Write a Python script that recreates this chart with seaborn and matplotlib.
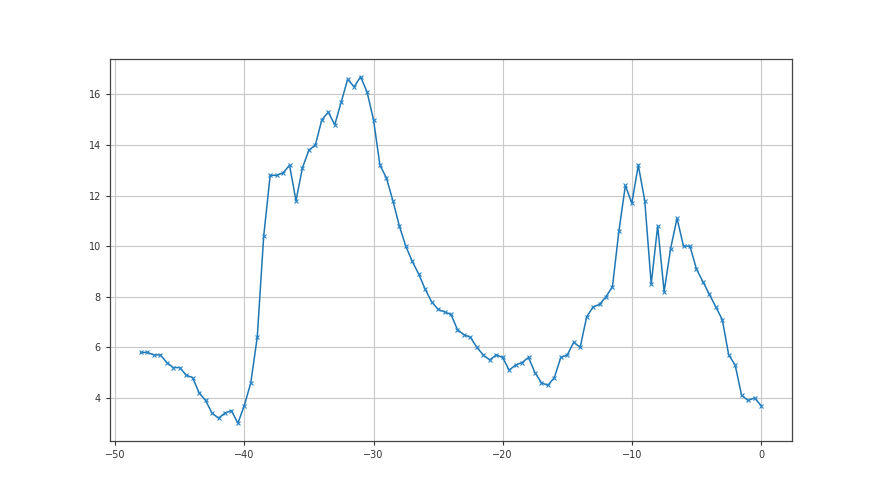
import numpy as np
import pandas as pd
import seaborn as sns
import matplotlib
matplotlib.use("Agg")
import matplotlib.pyplot as plt

x_start = -48.0
x_step = 0.5
values = [
    5.8, 5.8, 5.7, 5.7, 5.4, 5.2, 5.2, 4.9, 4.8, 4.2,
    3.9, 3.4, 3.2, 3.4, 3.5, 3.0, 3.7, 4.6, 6.4, 10.4,
    12.8, 12.8, 12.9, 13.2, 11.8, 13.1, 13.8, 14.0, 15.0, 15.3,
    14.8, 15.7, 16.6, 16.3, 16.7, 16.1, 15.0, 13.2, 12.7, 11.8,
    10.8, 10.0, 9.4, 8.9, 8.3, 7.8, 7.5, 7.4, 7.3, 6.7,
    6.5, 6.4, 6.0, 5.7, 5.5, 5.7, 5.6, 5.1, 5.3, 5.4,
    5.6, 5.0, 4.6, 4.5, 4.8, 5.6, 5.7, 6.2, 6.0, 7.2,
    7.6, 7.7, 8.0, 8.4, 10.6, 12.4, 11.7, 13.2, 11.8, 8.5,
    10.8, 8.2, 9.9, 11.1, 10.0, 10.0, 9.1, 8.6, 8.1, 7.6,
    7.1, 5.7, 5.3, 4.1, 3.9, 4.0, 3.7,
]
x_values = [x_start + i * x_step for i in range(len(values))]

df = pd.DataFrame({"x": x_values, "y": values})

plt.rcParams["font.family"] = ["DejaVu Sans"]
fig, ax = plt.subplots(figsize=(8.8, 4.95), dpi=100)
fig.subplots_adjust(left=0.125, right=0.9, top=0.88, bottom=0.11)

sns.lineplot(data=df, x="x", y="y", ax=ax, color="#1f77b4", marker="x",
             markersize=3.5, markeredgewidth=0.8, linewidth=1.1,
             markeredgecolor="#2a86c8")

ax.grid(True, color="#c8c8c8", linewidth=0.8)
ax.set_axisbelow(True)
ax.set_xlabel("")
ax.set_ylabel("")
ax.margins(x=0.05, y=0.05)
for s in ax.spines.values():
    s.set_color("#444444")
    s.set_linewidth(0.9)
ax.tick_params(labelsize=7, colors="#333333", length=3, width=0.8)

fig.savefig("out.png", dpi=100, facecolor="white")
